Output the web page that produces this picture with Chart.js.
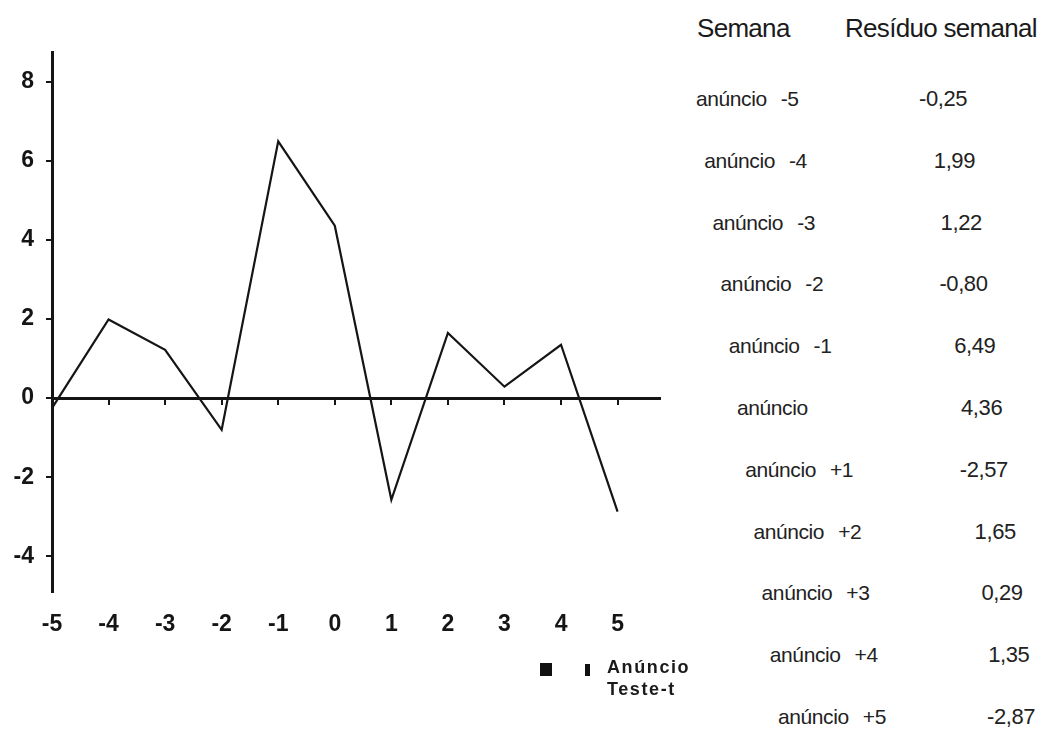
<!DOCTYPE html>
<html lang="pt-BR">
<head>
  <meta charset="UTF-8" />
  <title>Resíduo semanal</title>
  <script src="https://cdn.jsdelivr.net/npm/chart.js"></script>
  <style>
    body {
      margin: 0;
      width: 1049px;
      height: 729px;
      position: relative;
      overflow: hidden;
      background: #fff;
      font-family: Arial, "Liberation Sans", sans-serif;
      color: #1a1a1a;
    }
    .grafico {
      position: absolute;
      left: 0;
      top: 0;
      width: 680px;
      height: 729px;
    }
    .legenda {
      position: absolute;
      left: 540px;
      top: 656px;
      font-weight: bold;
      font-size: 18px;
      letter-spacing: 1.6px;
      line-height: 22px;
    }
    .legenda .quad { position: absolute; left: 0; top: 7px; width: 12px; height: 13px; background: #111; }
    .legenda .barra { position: absolute; left: 45px; top: 8px; width: 5px; height: 12px; background: #111; }
    .legenda .txt { position: absolute; left: 67px; top: 0; white-space: nowrap; }
    .cab {
      position: absolute;
      top: 13px;
      font-size: 26px;
      letter-spacing: -0.7px;
      white-space: nowrap;
    }
    .linha {
      position: absolute;
      font-size: 21px;
      letter-spacing: -0.4px;
      white-space: nowrap;
      color: #222;
    }
    .valor { font-size: 22px; }
  </style>
</head>
<body>
  <div class="grafico"><canvas id="graficoResiduo"></canvas></div>

  <div class="legenda">
    <div class="quad"></div>
    <div class="barra"></div>
    <div class="txt">Anúncio<br>Teste-t</div>
  </div>

  <div class="cab" style="left: 697px;">Semana</div>
  <div class="cab" style="left: 845px;">Resíduo semanal</div>
  <div id="tabela"></div>

  <script>
    // semanas relativas ao anúncio e resíduos semanais
    const semanas = [-5, -4, -3, -2, -1, 0, 1, 2, 3, 4, 5];
    const residuos = [-0.25, 1.99, 1.22, -0.80, 6.49, 4.36, -2.57, 1.65, 0.29, 1.35, -2.87];
    const rotulosSemana = ['anúncio -5', 'anúncio -4', 'anúncio -3', 'anúncio -2', 'anúncio -1', 'anúncio',
                           'anúncio +1', 'anúncio +2', 'anúncio +3', 'anúncio +4', 'anúncio +5'];
    const ticksY = [-4, -2, 0, 2, 4, 6, 8];
    const ticksX = semanas;

    const preto = '#151515';
    const fonteEixo = { family: 'Arial, sans-serif', size: 23, weight: 'bold' };

    // tabela à direita (escada)
    const tabela = document.getElementById('tabela');
    rotulosSemana.forEach((rot, i) => {
      const y = 87 + i * 61.8;
      const partes = rot.split(' ');
      const l = document.createElement('div');
      l.className = 'linha';
      l.style.left = (696 + i * 8.2) + 'px';
      l.style.top = y + 'px';
      l.innerHTML = partes[0] + (partes[1] ? '<span style="margin-left:14px">' + partes[1] + '</span>' : '');
      tabela.appendChild(l);

      const v = document.createElement('div');
      v.className = 'linha valor';
      v.style.left = (927 + i * 6.8 - (residuos[i] < 0 ? 8 : 0)) + 'px';
      v.style.top = (y - 1) + 'px';
      v.textContent = residuos[i].toFixed(2).replace('.', ',');
      tabela.appendChild(v);
    });

    new Chart(document.getElementById('graficoResiduo'), {
      type: 'line',
      data: {
        datasets: [{
          label: 'Anúncio',
          data: semanas.map((s, i) => ({ x: s, y: residuos[i] })),
          borderColor: preto,
          borderWidth: 2.2,
          pointRadius: 0,
          tension: 0,
          fill: false
        }]
      },
      options: {
        responsive: true,
        maintainAspectRatio: false,
        animation: false,
        layout: { padding: { top: 52, right: 20, bottom: 92, left: 0 } },
        plugins: { legend: { display: false }, tooltip: { enabled: false } },
        scales: {
          x: {
            type: 'linear',
            min: -5,
            max: 5.75,
            position: { y: 0 },
            border: { color: preto, width: 3 },
            grid: { drawOnChartArea: false, tickLength: 5, color: preto, lineWidth: 2 },
            ticks: { display: false },
            afterBuildTicks: s => { s.ticks = ticksX.map(v => ({ value: v })); }
          },
          x2: {
            type: 'linear',
            min: -5,
            max: 5.75,
            position: 'bottom',
            border: { display: false },
            grid: { display: false },
            ticks: { color: preto, font: fonteEixo, padding: 11, maxRotation: 0 },
            afterBuildTicks: s => { s.ticks = ticksX.map(v => ({ value: v })); },
            afterFit: s => { s.height = 45; }
          },
          y: {
            min: -4.9,
            max: 8.75,
            border: { color: preto, width: 3 },
            grid: { drawOnChartArea: false, tickLength: 6, color: preto, lineWidth: 2 },
            ticks: { color: preto, font: fonteEixo, padding: 12 },
            afterBuildTicks: s => { s.ticks = ticksY.map(v => ({ value: v })); },
            afterFit: s => { s.width = 52; }
          }
        }
      }
    });
  </script>
</body>
</html>
